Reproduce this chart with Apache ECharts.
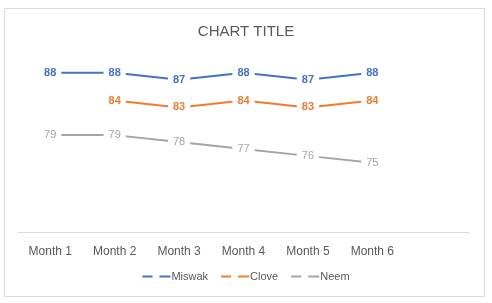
<!DOCTYPE html>
<html><head><meta charset="utf-8">
<script src="https://cdn.jsdelivr.net/npm/echarts@6/dist/echarts.min.js"></script>
<style>html,body{margin:0;padding:0;background:#fff}#c{width:492px;height:303px}</style>
</head><body><div id="c"></div>
<script>
const categories = ['Month 1','Month 2','Month 3','Month 4','Month 5','Month 6',''];
const miswak = [88, 88, 87, 88, 87, 88, null];
const clove = [null, 84, 83, 84, 83, 84, null];
const neem = [79, 79, 78, 77, 76, 75, null];
const colors = {Miswak:'#4472C4', Clove:'#ED7D31', Neem:'#A5A5A5'};
const font = 'Liberation Sans, Arial, sans-serif';
function mk(name, data, bold){
  return {
    name, type:'line', data,
    symbol:'circle', symbolSize:2,
    lineStyle:{color:colors[name], width:2},
    itemStyle:{color:colors[name]},
    label:{show:true, position:'inside', color:colors[name], fontFamily:font,
      fontSize:11, fontWeight: bold?'bold':'normal',
      backgroundColor:'#fff', padding:[1,5]},
    emphasis:{disabled:true}, animation:false
  };
}
const chart = echarts.init(document.getElementById('c'));
chart.setOption({
  animation:false,
  title:{text:'CHART TITLE', left:'center', top:19,
    textStyle:{color:'#595959', fontSize:15, fontWeight:'normal', fontFamily:font}},
  graphic:[{type:'rect', shape:{x:4.5, y:8.5, width:480, height:288}, style:{fill:'none', stroke:'#D9D9D9', lineWidth:1}, z:-1}],
  legend:{bottom:16, left:'center', itemGap:13, itemWidth:28, itemHeight:2,
    icon:'path://M0,0h10v2h-10z M17,0h11v2h-11z',
    textStyle:{color:'#595959', fontSize:11, fontFamily:font, padding:[0,0,0,-4]},
    data:['Miswak','Clove','Neem']},
  grid:{left:18, right:23, top:59, bottom:71},
  xAxis:{type:'category', data:categories, boundaryGap:true,
    axisTick:{show:false}, axisLine:{lineStyle:{color:'#D9D9D9'}},
    axisLabel:{color:'#595959', fontSize:12, fontFamily:font, margin:14}},
  yAxis:{type:'value', min:65, max:90, show:false, splitLine:{show:false}},
  series:[mk('Miswak', miswak, true), mk('Clove', clove, true), mk('Neem', neem, false)]
});
</script></body></html>
